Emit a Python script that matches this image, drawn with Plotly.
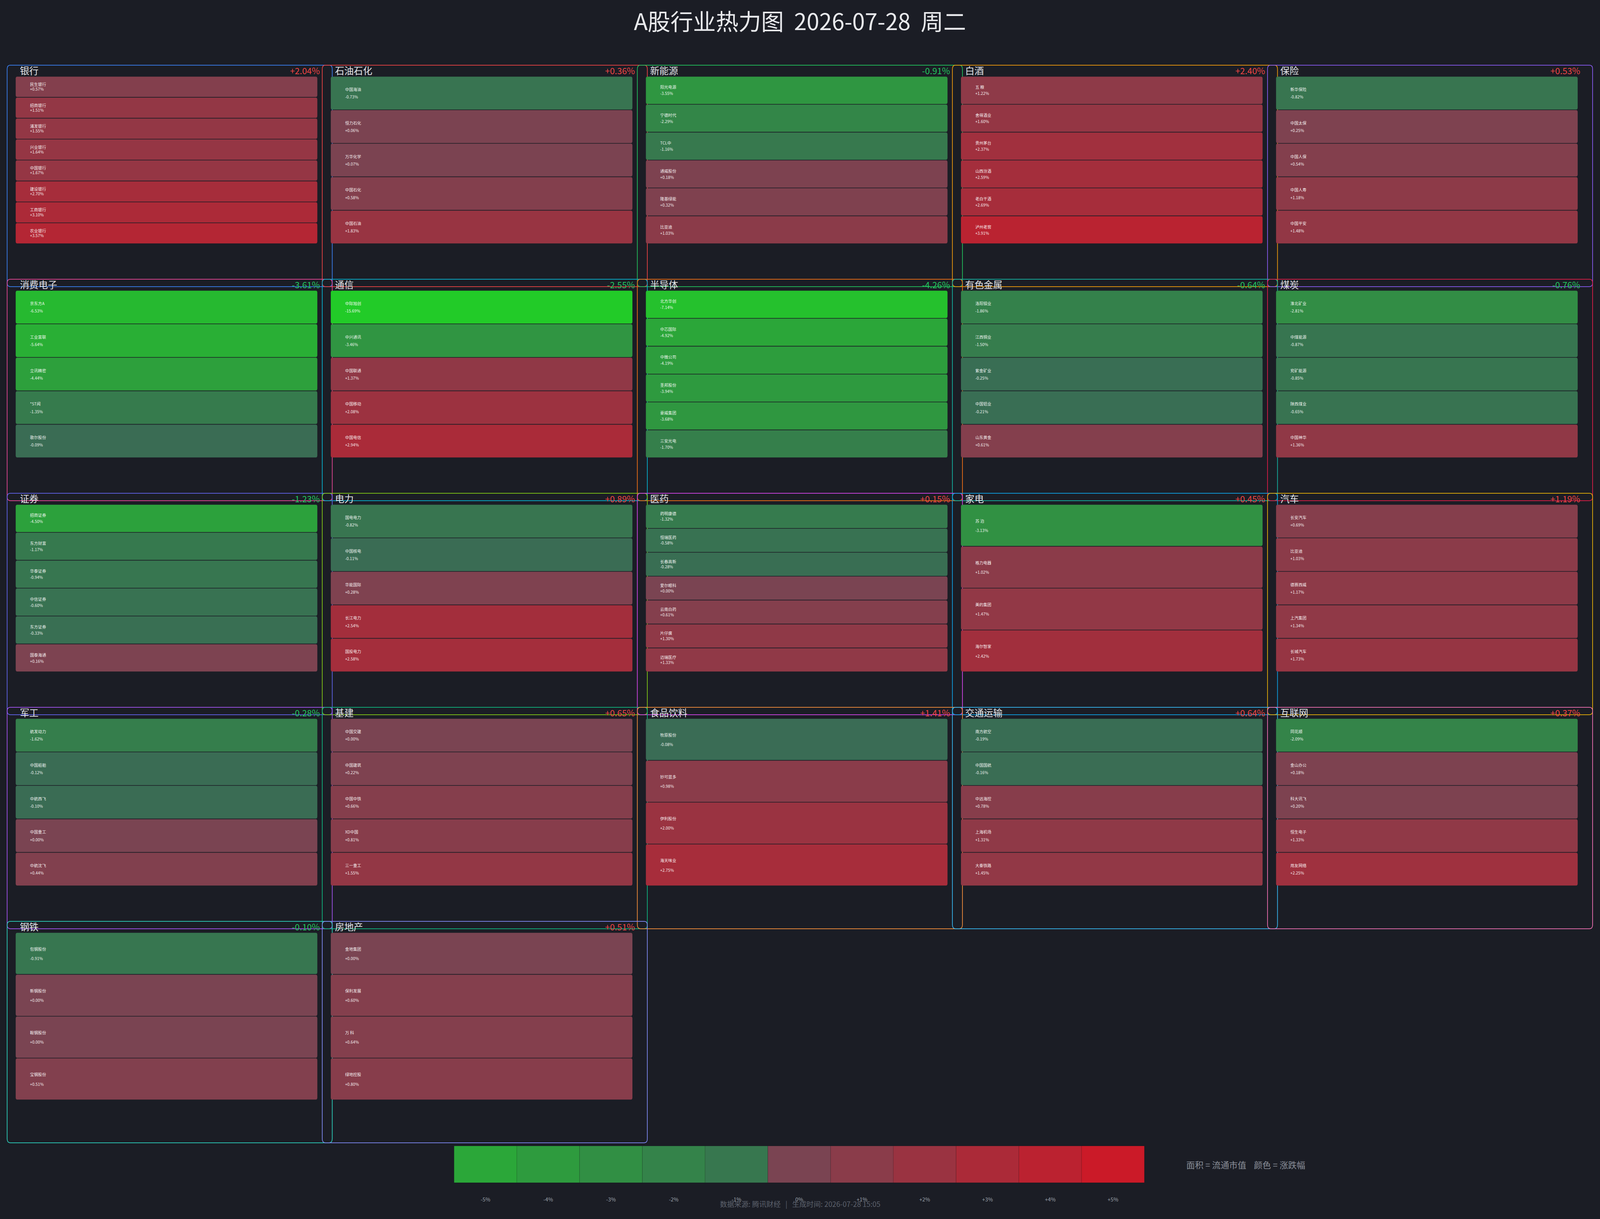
import plotly.graph_objects as go

# ---- data ----
sectors = ["银行", "石油石化", "新能源", "白酒", "保险",
           "消费电子", "通信", "半导体", "有色金属", "煤炭",
           "证券", "电力", "医药", "家电", "汽车",
           "军工", "基建", "食品饮料", "交通运输", "互联网",
           "钢铁", "房地产"]

sector_chg = [2.04, 0.36, -0.91, 2.40, 0.53,
              -3.61, -2.55, -4.26, -0.64, -0.76,
              -1.23, 0.89, 0.15, 0.45, 1.19,
              -0.28, 0.65, 1.41, 0.64, 0.37,
              -0.10, 0.51]

stock_names = [
    ["民生银行", "招商银行", "浦发银行", "兴业银行", "中国银行", "建设银行", "工商银行", "农业银行"],
    ["中国海油", "恒力石化", "万华化学", "中国石化", "中国石油"],
    ["阳光电源", "宁德时代", "TCL中", "通威股份", "隆基绿能", "比亚迪"],
    ["五 粮", "舍得酒业", "贵州茅台", "山西汾酒", "老白干酒", "泸州老窖"],
    ["新华保险", "中国太保", "中国人保", "中国人寿", "中国平安"],
    ["京东方A", "工业富联", "立讯精密", "*ST闻", "歌尔股份"],
    ["中际旭创", "中兴通讯", "中国联通", "中国移动", "中国电信"],
    ["北方华创", "中芯国际", "中微公司", "圣邦股份", "豪威集团", "三安光电"],
    ["洛阳钼业", "江西铜业", "紫金矿业", "中国铝业", "山东黄金"],
    ["淮北矿业", "中煤能源", "兖矿能源", "陕西煤业", "中国神华"],
    ["招商证券", "东方财富", "华泰证券", "中信证券", "东方证券", "国泰海通"],
    ["国电电力", "中国核电", "华能国际", "长江电力", "国投电力"],
    ["药明康德", "恒瑞医药", "长春高新", "爱尔眼科", "云南白药", "片仔癀", "迈瑞医疗"],
    ["苏 泊", "格力电器", "美的集团", "海尔智家"],
    ["长安汽车", "比亚迪", "德赛西威", "上汽集团", "长城汽车"],
    ["航发动力", "中国船舶", "中航西飞", "中国重工", "中航沈飞"],
    ["中国交建", "中国建筑", "中国中铁", "XD中国", "三一重工"],
    ["牧原股份", "妙可蓝多", "伊利股份", "海天味业"],
    ["南方航空", "中国国航", "中远海控", "上海机场", "大秦铁路"],
    ["同花顺", "金山办公", "科大讯飞", "恒生电子", "用友网络"],
    ["包钢股份", "新钢股份", "鞍钢股份", "宝钢股份"],
    ["金地集团", "保利发展", "万 科", "绿地控股"],
]

stock_pct = [
    [0.57, 1.51, 1.55, 1.64, 1.67, 2.70, 3.10, 3.57],
    [-0.73, 0.06, 0.07, 0.58, 1.83],
    [-3.55, -2.29, -1.16, 0.18, 0.32, 1.03],
    [1.22, 1.60, 2.37, 2.59, 2.69, 3.91],
    [-0.82, 0.25, 0.54, 1.18, 1.48],
    [-6.53, -5.64, -4.44, -1.35, -0.09],
    [-15.69, -3.46, 1.37, 2.08, 2.94],
    [-7.14, -4.92, -4.19, -3.94, -3.68, -1.70],
    [-1.86, -1.50, -0.25, -0.21, 0.61],
    [-2.81, -0.87, -0.85, -0.65, 1.36],
    [-4.50, -1.17, -0.94, -0.60, -0.33, 0.16],
    [-0.82, -0.11, 0.28, 2.54, 2.58],
    [-1.32, -0.58, -0.28, 0.00, 0.61, 1.30, 1.33],
    [-3.13, 1.02, 1.47, 2.42],
    [0.69, 1.03, 1.17, 1.34, 1.73],
    [-1.62, -0.12, -0.10, 0.00, 0.44],
    [0.00, 0.22, 0.66, 0.81, 1.55],
    [-0.08, 0.98, 2.00, 2.75],
    [-0.19, -0.16, 0.78, 1.31, 1.45],
    [-2.09, 0.18, 0.20, 1.33, 2.25],
    [-0.91, 0.00, 0.00, 0.51],
    [0.00, 0.60, 0.64, 0.80],
]

scale_ticks = [-5, -4, -3, -2, -1, 0, 1, 2, 3, 4, 5]

# ---- styles / layout ----
# axis units follow the reference picture (5148 x 3121); the figure fills the window
W, H = 5148, 3121
S = W / 4096
BG = "#1b1d25"
FONT = "Noto Sans CJK SC"
border_colors = ["#3b82f6", "#ef4444", "#22c55e", "#f59e0b", "#8b5cf6",
                 "#ec4899", "#06b6d4", "#f97316", "#14b8a6", "#e11d48",
                 "#6366f1", "#84cc16", "#d946ef", "#0ea5e9", "#eab308",
                 "#a855f7", "#10b981", "#fb923c", "#38bdf8", "#f472b6",
                 "#2dd4bf", "#818cf8"]

NCOL = 5
BOX_X0, COL_STEP, BOX_W = 23, 1013.8, 1046
BOX_Y0, ROW_STEP, BOX_H = 166.8, 548, 567
TILE_DX, TILE_W = 27.5, 970.5
TILE_DY, TILE_H = 28.7, 428.6


def fs(px):
    return round(px / S, 1)


def pct_color(p):
    t = min(abs(p) / 8.0, 1.0)
    if p < 0:
        a, b = (58, 107, 85), (34, 203, 40)
    else:
        a, b = (122, 68, 82), (252, 0, 14)
    return "rgb(%d,%d,%d)" % tuple(round(a[i] + (b[i] - a[i]) * t) for i in range(3))


def rrect(x0, y0, x1, y1, r):
    return (f"M{x0+r},{y0} L{x1-r},{y0} Q{x1},{y0} {x1},{y0+r} "
            f"L{x1},{y1-r} Q{x1},{y1} {x1-r},{y1} L{x0+r},{y1} "
            f"Q{x0},{y1} {x0},{y1-r} L{x0},{y0+r} Q{x0},{y0} {x0+r},{y0} Z")


def fmt(p):
    return f"{p:+.2f}%"


shapes = []
nx, ny, nt = [], [], []
px, py, pt = [], [], []
tx, ty, tt = [], [], []
cx, cy, ct, cc = [], [], [], []

# sector frames
for k, sec in enumerate(sectors):
    bx = BOX_X0 + (k % NCOL) * COL_STEP
    by = BOX_Y0 + (k // NCOL) * ROW_STEP
    shapes.append(dict(type="path", path=rrect(bx, by, bx + BOX_W, by + BOX_H, 10),
                       line=dict(color=border_colors[k], width=1.7),
                       fillcolor="rgba(0,0,0,0)", layer="below"))

# stock tiles
for k, sec in enumerate(sectors):
    bx = BOX_X0 + (k % NCOL) * COL_STEP
    by = BOX_Y0 + (k // NCOL) * ROW_STEP
    n = len(stock_names[k])
    h = TILE_H / n
    x0 = bx + TILE_DX
    for i, (nm, p) in enumerate(zip(stock_names[k], stock_pct[k])):
        y0 = by + TILE_DY + i * h
        shapes.append(dict(type="path", path=rrect(x0, y0 + 0.8, x0 + TILE_W, y0 + h - 0.8, 5),
                           line=dict(width=0), fillcolor=pct_color(p), layer="below"))
        nx.append(x0 + 46); ny.append(y0 + 0.41 * h); nt.append(nm)
        px.append(x0 + 46); py.append(y0 + 0.635 * h); pt.append(fmt(p))
    tx.append(bx + 41); ty.append(by + 17); tt.append(sec)
    cx.append(bx + 1006); cy.append(by + 18); ct.append(fmt(sector_chg[k]))
    cc.append("#ef4444" if sector_chg[k] >= 0 else "#22c55e")

# color scale blocks
BAR_X0, BAR_X1, BAR_Y0, BAR_Y1 = 1461, 3682, 2934, 3028
bw = (BAR_X1 - BAR_X0) / len(scale_ticks)
lx, ly, lt = [], [], []
for i, v in enumerate(scale_ticks):
    x0 = BAR_X0 + i * bw
    shapes.append(dict(type="rect", x0=x0, x1=x0 + bw, y0=BAR_Y0, y1=BAR_Y1,
                       line=dict(color="rgba(0,0,0,0.18)", width=1),
                       fillcolor=pct_color(v), layer="below"))
    lx.append(x0 + bw / 2); ly.append(3073)
    lt.append(f"{v:+d}%" if v > 0 else f"{v}%")

fig = go.Figure()
fig.add_trace(go.Scatter(x=nx, y=ny, text=nt, mode="text", textposition="middle right",
                         textfont=dict(family=FONT, size=fs(13), color="rgba(255,255,255,0.93)"),
                         hoverinfo="skip"))
fig.add_trace(go.Scatter(x=px, y=py, text=pt, mode="text", textposition="middle right",
                         textfont=dict(family=FONT, size=fs(13), color="rgba(255,255,255,0.93)"),
                         hoverinfo="skip"))
fig.add_trace(go.Scatter(x=tx, y=ty, text=tt, mode="text", textposition="middle right",
                         textfont=dict(family=FONT, size=fs(30), color="#e2e4e8"),
                         hoverinfo="skip"))
fig.add_trace(go.Scatter(x=cx, y=cy, text=ct, mode="text", textposition="middle left",
                         textfont=dict(family=FONT, size=fs(28), color=cc),
                         hoverinfo="skip"))
fig.add_trace(go.Scatter(x=lx, y=ly, text=lt, mode="text", textposition="middle center",
                         textfont=dict(family=FONT, size=fs(17), color="#9aa0aa"),
                         hoverinfo="skip"))

fig.add_annotation(x=2574, y=3082, xref="x", yref="y", showarrow=False,
                   text="数据来源: 腾讯财经   |   生成时间: 2026-07-28 15:05",
                   font=dict(family=FONT, size=fs(23), color="#5d626d"))
fig.add_annotation(x=3814, y=2981, xref="x", yref="y", showarrow=False, xanchor="left",
                   text="面积 = 流通市值    颜色 = 涨跌幅",
                   font=dict(family=FONT, size=fs(27.5), color="#8a8f99"))

fig.update_layout(
    autosize=True,
    title=dict(text="A股行业热力图  2026-07-28  周二", x=0.5, xanchor="center",
               y=1 - 57 / H, yanchor="middle",
               font=dict(family=FONT, size=fs(73), color="#e8e9ec")),
    paper_bgcolor=BG, plot_bgcolor=BG,
    margin=dict(l=0, r=0, t=0, b=0),
    showlegend=False,
    shapes=shapes,
    xaxis=dict(range=[0, W], visible=False, fixedrange=True),
    yaxis=dict(range=[H, 0], visible=False, fixedrange=True),
)

fig.write_html("out.html",
               config={"displayModeBar": False},
               default_width="100vw", default_height="100vh",
               post_script="document.body.style.margin='0';"
                           "document.body.style.overflow='hidden';"
                           f"document.body.style.background='{BG}';")
